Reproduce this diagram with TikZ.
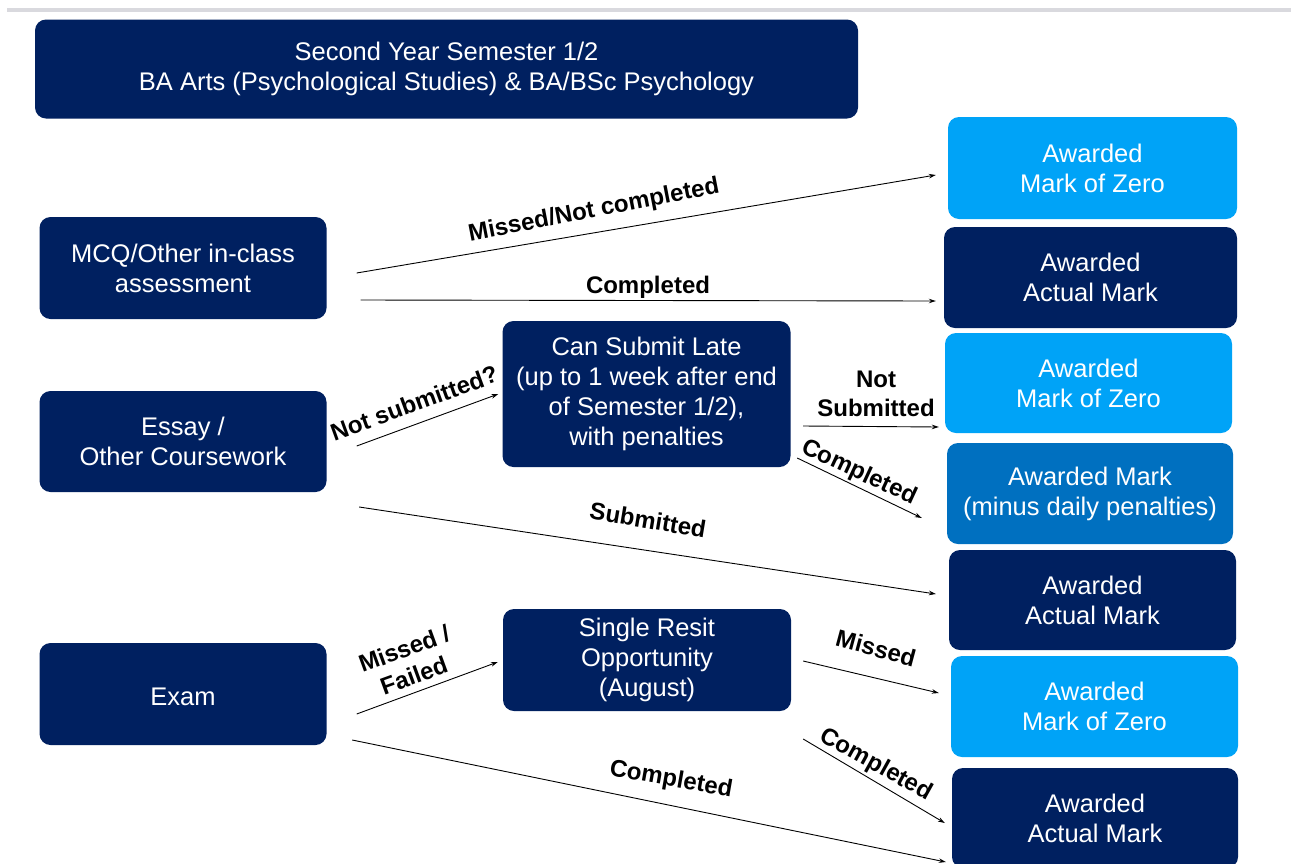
\documentclass[tikz,border=0pt]{standalone}
\usepackage{fontspec}
\setmainfont{Liberation Sans}
\usetikzlibrary{arrows.meta}
\definecolor{navy}{HTML}{002060}
\definecolor{lblue}{HTML}{00A3F7}
\definecolor{mblue}{HTML}{0070C0}
\definecolor{topgrey}{HTML}{D9D9DE}
\tikzset{
  box/.style={rounded corners=11pt, inner sep=0pt, align=center, text=white,
    font=\fontsize{25.5}{30}\selectfont,
    execute at begin node={\rule{0pt}{23pt}}},
  darkbox/.style={box, fill=navy},
  lightbox/.style={box, fill=lblue},
  medbox/.style={box, fill=mblue},
  lbl/.style={font=\bfseries\fontsize{24}{28.5}\selectfont, align=center, inner sep=0pt},
  conn/.style={line width=0.9pt, -{Stealth[length=7pt,width=4.5pt]}},
}
\begin{document}
\begin{tikzpicture}[x=1pt,y=-1pt]
\useasboundingbox (0,0) rectangle (1291,863);
\clip (0,0) rectangle (1291,863);
\fill[white] (0,0) rectangle (1291,863);
\coordinate (gl) at (7,10);
\coordinate (gr) at (1291,10);
\draw[topgrey, line width=4pt] (gl) -- (gr);

% left column and title
\node[darkbox, minimum width=823pt, minimum height=99pt] (title) at (446.5,69)
  {Second Year Semester 1/2\\BA Arts (Psychological Studies) \& BA/BSc Psychology};
\node[darkbox, minimum width=287pt, minimum height=102pt] (mcq) at (183,268)
  {MCQ/Other in-class\\assessment};
\node[darkbox, minimum width=287pt, minimum height=101pt] (essay) at (183,441.5)
  {Essay /\\Other Coursework};
\node[darkbox, minimum width=287pt, minimum height=102pt] (exam) at (183,694)
  {Exam};

% middle column
\node[darkbox, minimum width=288pt, minimum height=146pt] (late) at (646.5,394)
  {Can Submit Late\\(up to 1 week after end\\of Semester 1/2),\\with penalties};
\node[darkbox, minimum width=288pt, minimum height=102pt] (resit) at (647,660)
  {Single Resit\\Opportunity\\(August)};

% right column
\node[lightbox, minimum width=289pt, minimum height=102pt] (z1) at (1092.5,168)
  {Awarded\\Mark of Zero};
\node[darkbox, minimum width=293pt, minimum height=101pt] (a1) at (1090.5,277.5)
  {Awarded\\Actual Mark};
\node[lightbox, minimum width=287pt, minimum height=100pt] (z2) at (1088.5,383)
  {Awarded\\Mark of Zero};
\node[medbox, minimum width=286pt, minimum height=101pt] (pen) at (1090,493.5)
  {Awarded Mark\\(minus daily penalties)};
\node[darkbox, minimum width=287pt, minimum height=100pt] (a2) at (1092.5,600)
  {Awarded\\Actual Mark};
\node[lightbox, minimum width=287pt, minimum height=101pt] (z3) at (1094.5,706.5)
  {Awarded\\Mark of Zero};
\node[darkbox, minimum width=286pt, minimum height=100pt] (a3) at (1095,818)
  {Awarded\\Actual Mark};

% connectors
\draw[conn] ([shift={(30,5)}]mcq.east) -- ([shift={(-12,7)}]z1.west);
\draw[conn] ([shift={(34,32)}]mcq.east) -- ([shift={(-8,23.5)}]a1.west);
\draw[conn] ([shift={(30,4.5)}]essay.east) -- ([shift={(-4,0)}]late.west);
\draw[conn] ([shift={(32.5,65.5)}]essay.east) -- ([shift={(-13,-6)}]a2.west);
\draw[conn] ([shift={(12.5,32)}]late.east) -- ([shift={(-6,44)}]z2.west);
\draw[conn] ([shift={(6.5,64)}]late.east) -- ([shift={(-25,24.5)}]pen.west);
\draw[conn] ([shift={(30,20)}]exam.east) -- ([shift={(-5,2)}]resit.west);
\draw[conn] ([shift={(25.5,46)}]exam.east) -- ([shift={(-6,44)}]a3.west);
\draw[conn] ([shift={(12,1)}]resit.east) -- ([shift={(-12,-13.5)}]z3.west);
\draw[conn] ([shift={(12,79)}]resit.east) -- ([shift={(-7,5)}]a3.west);

% labels
\node[lbl, rotate=11] (l1) at (594,211) {Missed/Not completed};
\node[lbl] (l2) at (648,287) {Completed};
\node[lbl, rotate=20] (l3) at (414,403) {Not submitted?};
\node[lbl] (l4) at (876,394) {Not\\Submitted};
\node[lbl, rotate=-25] (l5) at (859,473) {Completed};
\node[lbl, rotate=-9.5] (l6) at (648,520) {Submitted};
\node[lbl, rotate=20] (l7) at (409,662) {Missed /\\Failed};
\node[lbl, rotate=-15] (l8) at (876,648) {Missed};
\node[lbl, rotate=-29] (l9) at (876,765) {Completed};
\node[lbl, rotate=-10] (l10) at (671,780) {Completed};
\end{tikzpicture}
\end{document}
